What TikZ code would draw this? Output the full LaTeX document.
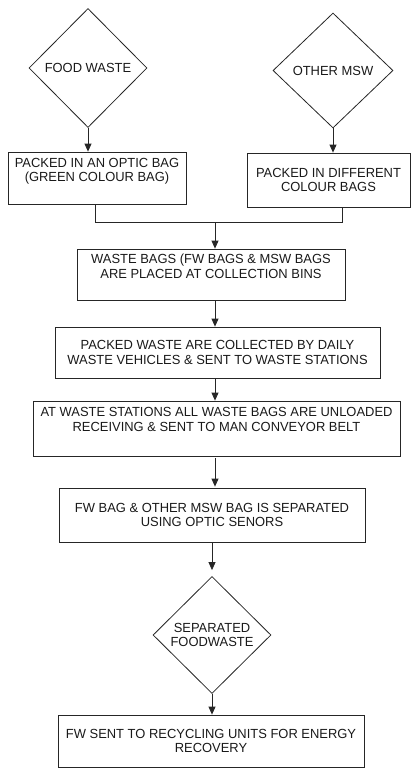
\documentclass[tikz,border=0pt]{standalone}
\usepackage{fontspec}
\setmainfont[FakeStretch=0.98]{Liberation Sans}
\usetikzlibrary{shapes.geometric,arrows.meta}
\begin{document}
\begin{tikzpicture}[x=1pt,y=1pt,
  every node/.style={font=\fontsize{13.2}{14.6}\selectfont, text=black!90},
  procbox/.style={draw=black!85, line width=0.8pt, rectangle, inner sep=0pt, align=center},
  decbox/.style={draw=black!85, line width=0.8pt, diamond, inner sep=0pt, align=center},
  arr/.style={draw=black!85, line width=0.8pt, -{Triangle[length=8pt,width=7pt]}},
  conn/.style={draw=black!85, line width=0.8pt}]
\useasboundingbox (0,0) rectangle (411,-768);
\node[decbox, minimum width=118pt, minimum height=119pt] (food) at (88,-68) {FOOD WASTE};
\node[decbox, minimum width=120pt, minimum height=115pt] (msw) at (333,-70.5) {OTHER MSW};
\node[procbox, minimum width=178pt, minimum height=52pt] (b1) at (97,-178) {PACKED IN AN OPTIC BAG\\(GREEN COLOUR BAG)\\[2pt]};
\node[procbox, minimum width=163pt, minimum height=54pt] (b2) at (328.5,-180) {PACKED IN DIFFERENT\\COLOUR BAGS};
\node[procbox, minimum width=268pt, minimum height=51pt] (b3) at (211,-274.5) {WASTE BAGS (FW BAGS \& MSW BAGS\\ARE PLACED AT COLLECTION BINS\\[2pt]};
\node[procbox, minimum width=325pt, minimum height=51pt] (b4) at (217.5,-352.5) {PACKED WASTE ARE COLLECTED BY DAILY\\WASTE VEHICLES \& SENT TO WASTE STATIONS};
\node[procbox, minimum width=367pt, minimum height=55pt] (b5) at (216.5,-428.5) {AT WASTE STATIONS ALL WASTE BAGS ARE UNLOADED\\RECEIVING \& SENT TO MAN CONVEYOR BELT\\[4pt]};
\node[procbox, minimum width=306pt, minimum height=54pt] (b6) at (212,-515) {FW BAG \& OTHER MSW BAG IS SEPARATED\\USING OPTIC SENORS};
\node[decbox, minimum width=118pt, minimum height=117pt] (sep) at (212,-635) {SEPARATED\\FOODWASTE};
\node[procbox, minimum width=306pt, minimum height=52pt] (b7) at (211,-741) {FW SENT TO RECYCLING UNITS FOR ENERGY\\RECOVERY};
\coordinate (xa) at (88,0);
\coordinate (xb) at (333,0);
\coordinate (xl) at (95,0);
\coordinate (xr) at (342,0);
\coordinate (xm) at (215,0);
\coordinate (xs) at (212,0);
\coordinate (jl) at (95,-222);
\coordinate (jr) at (342,-222);
\coordinate (jm) at (215,-222);
\draw[arr] (food.south) -- (b1.north -| xa);
\draw[arr] (msw.south) -- (b2.north -| xb);
\draw[conn] (b1.south -| xl) -- (jl) -- (jr) -- (b2.south -| xr);
\draw[arr] (jm) -- (b3.north -| xm);
\draw[arr] (b3.south -| xm) -- (b4.north -| xm);
\draw[arr] (b4.south -| xm) -- (b5.north -| xm);
\draw[arr] ([yshift=-2pt]b5.south -| xm) -- ([yshift=1pt]b6.north -| xm);
\draw[arr] (b6.south -| xs) -- ([yshift=6pt]sep.north);
\draw[arr] (sep.south) -- (b7.north -| xs);
\end{tikzpicture}
\end{document}
